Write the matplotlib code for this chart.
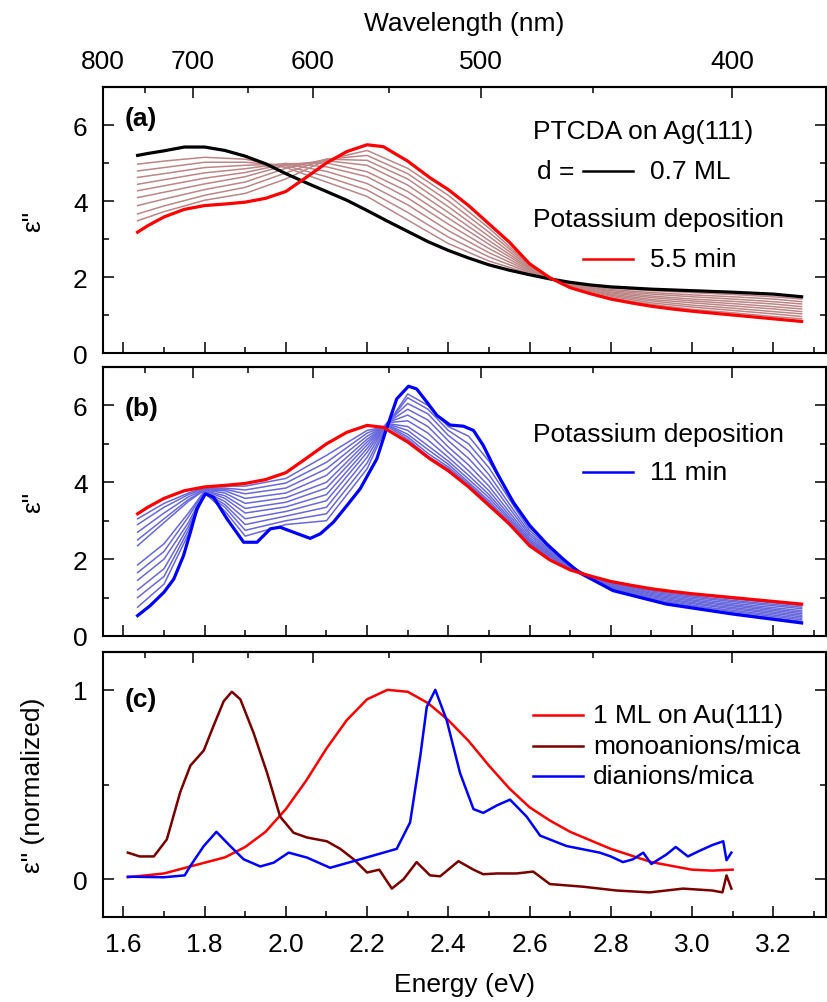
import numpy as np
import matplotlib.pyplot as plt
from matplotlib.ticker import MultipleLocator, FixedLocator, FormatStrFormatter

plt.rcParams['font.family'] = ['Liberation Sans', 'DejaVu Sans']
plt.rcParams['font.size'] = 19

# ---------------- panel (a): PTCDA on Ag(111), K deposition up to 5.5 min
E_a_black = [1.635, 1.66, 1.70, 1.75, 1.80, 1.85, 1.90, 1.95, 2.00, 2.05, 2.10, 2.15, 2.20, 2.25, 2.30,
             2.35, 2.40, 2.45, 2.50, 2.55, 2.60, 2.65, 2.70, 2.75, 2.80, 2.90, 3.00, 3.10, 3.20, 3.27]
eps_a_black = [5.20, 5.25, 5.32, 5.42, 5.42, 5.33, 5.18, 4.98, 4.72, 4.48, 4.25, 4.02, 3.75, 3.47, 3.20,
               2.93, 2.70, 2.50, 2.32, 2.18, 2.06, 1.95, 1.86, 1.79, 1.74, 1.68, 1.64, 1.60, 1.55, 1.48]

# 5.5 min K (same spectrum is the start of panel b)
E_red = [1.635, 1.66, 1.70, 1.75, 1.80, 1.85, 1.90, 1.95, 2.00, 2.05, 2.10, 2.15, 2.20, 2.24, 2.273, 2.30,
         2.355, 2.40, 2.45, 2.50, 2.55, 2.60, 2.65, 2.70, 2.75, 2.80, 2.85, 2.90, 2.95, 3.00, 3.10, 3.20, 3.27]
eps_red = [3.18, 3.35, 3.58, 3.78, 3.88, 3.92, 3.97, 4.07, 4.25, 4.62, 5.00, 5.30, 5.48, 5.43, 5.22, 5.05,
           4.61, 4.30, 3.88, 3.40, 2.92, 2.35, 1.98, 1.72, 1.56, 1.42, 1.32, 1.23, 1.16, 1.10, 1.00, 0.90, 0.83]

E_a_steps = [1.635, 1.70, 1.80, 1.90, 2.00, 2.10, 2.20, 2.30, 2.40, 2.50, 2.60, 2.65, 2.70, 2.80, 2.90,
             3.00, 3.10, 3.20, 3.27]
eps_a_steps = [
    [4.97, 5.05, 5.15, 5.10, 4.88, 4.50, 4.12, 3.50, 2.88, 2.42, 2.09, 1.95, 1.85, 1.71, 1.64, 1.59, 1.54, 1.48, 1.42],
    [4.79, 4.88, 5.02, 5.02, 4.93, 4.64, 4.29, 3.70, 3.05, 2.53, 2.12, 1.95, 1.83, 1.67, 1.59, 1.53, 1.48, 1.42, 1.35],
    [4.62, 4.72, 4.88, 4.94, 4.97, 4.78, 4.46, 3.90, 3.22, 2.64, 2.15, 1.96, 1.82, 1.64, 1.55, 1.48, 1.42, 1.35, 1.29],
    [4.44, 4.56, 4.74, 4.85, 4.99, 4.90, 4.64, 4.08, 3.39, 2.75, 2.18, 1.96, 1.80, 1.61, 1.50, 1.42, 1.36, 1.29, 1.22],
    [4.27, 4.40, 4.60, 4.75, 4.98, 5.00, 4.77, 4.25, 3.55, 2.86, 2.21, 1.96, 1.79, 1.58, 1.46, 1.37, 1.30, 1.22, 1.16],
    [4.09, 4.23, 4.45, 4.64, 4.94, 5.06, 4.94, 4.42, 3.70, 2.96, 2.24, 1.97, 1.77, 1.55, 1.41, 1.32, 1.24, 1.16, 1.09],
    [3.88, 4.05, 4.30, 4.50, 4.86, 5.10, 5.07, 4.58, 3.85, 3.07, 2.27, 1.97, 1.76, 1.52, 1.37, 1.26, 1.18, 1.09, 1.03],
    [3.66, 3.87, 4.15, 4.36, 4.74, 5.10, 5.20, 4.72, 4.00, 3.18, 2.30, 1.97, 1.75, 1.49, 1.32, 1.21, 1.12, 1.03, 0.96],
    [3.48, 3.72, 4.02, 4.20, 4.58, 5.08, 5.33, 4.86, 4.15, 3.29, 2.32, 1.98, 1.73, 1.45, 1.28, 1.15, 1.06, 0.96, 0.90],
]

# ---------------- panel (b): further K deposition up to 11 min
E_b_blue = [1.635, 1.666, 1.70, 1.724, 1.748, 1.765, 1.781, 1.802, 1.822, 1.855, 1.896, 1.929, 1.962, 1.986,
            2.019, 2.06, 2.085, 2.117, 2.15, 2.183, 2.224, 2.245, 2.273, 2.302, 2.322, 2.347, 2.372, 2.404,
            2.437, 2.462, 2.486, 2.519, 2.56, 2.601, 2.642, 2.683, 2.724, 2.806, 2.937, 3.101, 3.27]
eps_b_blue = [0.53, 0.79, 1.14, 1.48, 2.09, 2.70, 3.31, 3.70, 3.61, 3.05, 2.44, 2.44, 2.79, 2.83,
              2.70, 2.54, 2.66, 2.96, 3.39, 3.83, 4.61, 5.30, 6.17, 6.50, 6.43, 6.09, 5.74, 5.49,
              5.46, 5.35, 4.96, 4.26, 3.48, 2.87, 2.40, 2.00, 1.64, 1.18, 0.83, 0.57, 0.34]

E_b_steps = [1.635, 1.70, 1.76, 1.80, 1.85, 1.90, 2.00, 2.10, 2.20, 2.25, 2.30, 2.35, 2.40, 2.45, 2.50,
             2.60, 2.70, 2.80, 2.90, 3.05, 3.27]
eps_b_steps = [
    [3.05, 3.45, 3.72, 3.86, 3.90, 3.90, 4.10, 4.70, 5.35, 5.45, 5.12, 4.68, 4.35, 3.90, 3.43, 2.36, 1.74, 1.39, 1.20, 1.02, 0.79],
    [2.90, 3.35, 3.68, 3.84, 3.85, 3.80, 3.98, 4.52, 5.28, 5.48, 5.18, 4.75, 4.40, 3.95, 3.47, 2.38, 1.75, 1.37, 1.17, 0.98, 0.75],
    [2.70, 3.20, 3.62, 3.82, 3.82, 3.70, 3.85, 4.35, 5.20, 5.50, 5.25, 4.85, 4.47, 4.00, 3.52, 2.41, 1.76, 1.35, 1.14, 0.95, 0.71],
    [2.50, 3.05, 3.55, 3.80, 3.78, 3.58, 3.72, 4.18, 5.12, 5.52, 5.35, 4.95, 4.55, 4.08, 3.60, 2.44, 1.77, 1.33, 1.11, 0.91, 0.66],
    [2.35, 2.95, 3.50, 3.80, 3.72, 3.45, 3.60, 4.00, 5.05, 5.53, 5.45, 5.10, 4.65, 4.18, 3.68, 2.47, 1.78, 1.31, 1.08, 0.87, 0.62],
    [1.85, 2.40, 3.20, 3.78, 3.65, 3.32, 3.48, 3.85, 4.97, 5.55, 5.60, 5.28, 4.78, 4.30, 3.78, 2.51, 1.79, 1.29, 1.05, 0.84, 0.58],
    [1.65, 2.20, 3.10, 3.78, 3.58, 3.20, 3.36, 3.68, 4.88, 5.55, 5.75, 5.45, 4.92, 4.45, 3.90, 2.56, 1.80, 1.27, 1.02, 0.80, 0.54],
    [1.45, 2.00, 2.95, 3.76, 3.50, 3.05, 3.24, 3.52, 4.78, 5.55, 5.90, 5.62, 5.08, 4.62, 4.05, 2.62, 1.81, 1.25, 0.99, 0.77, 0.50],
    [1.20, 1.75, 2.85, 3.75, 3.42, 2.90, 3.12, 3.35, 4.65, 5.55, 6.05, 5.78, 5.22, 4.82, 4.20, 2.68, 1.82, 1.23, 0.96, 0.73, 0.46],
    [1.00, 1.55, 2.75, 3.74, 3.35, 2.75, 3.00, 3.18, 4.50, 5.52, 6.20, 5.90, 5.35, 5.00, 4.38, 2.75, 1.83, 1.21, 0.94, 0.70, 0.42],
    [0.75, 1.35, 2.65, 3.72, 3.25, 2.60, 2.90, 3.00, 4.35, 5.50, 6.30, 6.00, 5.45, 5.20, 4.55, 2.82, 1.84, 1.20, 0.92, 0.67, 0.38],
]

# ---------------- panel (c): normalized reference spectra
E_c_au = [1.611, 1.70, 1.77, 1.85, 1.90, 1.95, 2.00, 2.05, 2.10, 2.15, 2.20, 2.25, 2.30, 2.35, 2.40, 2.45,
          2.50, 2.55, 2.60, 2.65, 2.70, 2.80, 2.90, 3.00, 3.05, 3.10]
eps_c_au = [0.01, 0.03, 0.07, 0.115, 0.17, 0.25, 0.37, 0.52, 0.69, 0.84, 0.95, 1.00, 0.99, 0.93, 0.84, 0.73,
            0.60, 0.48, 0.38, 0.31, 0.25, 0.16, 0.09, 0.05, 0.045, 0.05]

E_c_mono = [1.611, 1.64, 1.675, 1.707, 1.74, 1.765, 1.798, 1.822, 1.847, 1.867, 1.888, 1.921, 1.954, 1.986,
            2.019, 2.052, 2.101, 2.134, 2.167, 2.20, 2.23, 2.261, 2.29, 2.322, 2.355, 2.38, 2.425, 2.462,
            2.486, 2.52, 2.568, 2.609, 2.65, 2.732, 2.814, 2.896, 2.978, 3.05, 3.075, 3.085, 3.097]
eps_c_mono = [0.14, 0.12, 0.12, 0.21, 0.46, 0.60, 0.68, 0.81, 0.94, 0.99, 0.95, 0.77, 0.56, 0.33,
              0.245, 0.22, 0.20, 0.16, 0.105, 0.035, 0.05, -0.05, 0.0, 0.09, 0.02, 0.015, 0.095, 0.05,
              0.026, 0.03, 0.03, 0.04, -0.026, -0.04, -0.06, -0.07, -0.05, -0.06, -0.07, 0.02, -0.05]

E_c_di = [1.611, 1.70, 1.751, 1.765, 1.798, 1.829, 1.863, 1.896, 1.937, 1.97, 2.007, 2.052, 2.109, 2.175,
          2.224, 2.273, 2.306, 2.331, 2.347, 2.368, 2.396, 2.429, 2.462, 2.486, 2.52, 2.552, 2.593, 2.626,
          2.691, 2.773, 2.80, 2.83, 2.855, 2.88, 2.90, 2.937, 2.96, 2.99, 3.019, 3.05, 3.077, 3.085, 3.097]
eps_c_di = [0.013, 0.01, 0.02, 0.07, 0.175, 0.25, 0.175, 0.105, 0.067, 0.087, 0.14, 0.114, 0.06, 0.10,
            0.13, 0.16, 0.30, 0.65, 0.91, 1.00, 0.84, 0.56, 0.37, 0.35, 0.39, 0.42, 0.33, 0.23,
            0.175, 0.14, 0.12, 0.09, 0.105, 0.14, 0.08, 0.13, 0.17, 0.12, 0.15, 0.18, 0.20, 0.10, 0.14]

step_col_a = '#bd8686'
step_col_b = '#6868dc'


def e2nm(x):
    x = np.asarray(x, dtype=float)
    with np.errstate(divide='ignore'):
        return 1239.84 / x


fig = plt.figure(figsize=(8.27, 10.03), dpi=100)
L, W = 103 / 827, 723 / 827
ax_a = fig.add_axes([L, 1 - 354 / 1003, W, 266 / 1003])
ax_b = fig.add_axes([L, 1 - 637 / 1003, W, 269 / 1003])
ax_c = fig.add_axes([L, 1 - 918 / 1003, W, 265 / 1003])

for s in eps_a_steps:
    ax_a.plot(E_a_steps, s, color=step_col_a, lw=1.1)
ax_a.plot(E_a_black, eps_a_black, color='black', lw=2.3)
ax_a.plot(E_red, eps_red, color='red', lw=2.3)

for s in eps_b_steps:
    ax_b.plot(E_b_steps, s, color=step_col_b, lw=1.1)
ax_b.plot(E_b_blue, eps_b_blue, color='blue', lw=2.3)
ax_b.plot(E_red, eps_red, color='red', lw=2.3)

ax_c.plot(E_c_au, eps_c_au, color='red', lw=1.8)
ax_c.plot(E_c_mono, eps_c_mono, color='#7a0000', lw=1.8)
ax_c.plot(E_c_di, eps_c_di, color='blue', lw=1.8)


def key(ax, y, color, x0=0.664, x1=0.733):
    ax.plot([x0, x1], [y, y], color=color, lw=1.8, transform=ax.transAxes, clip_on=False)


# legends drawn by hand
ax_a.text(0.595, 0.835, 'PTCDA on Ag(111)', transform=ax_a.transAxes, va='center')
ax_a.text(0.600, 0.684, 'd =', transform=ax_a.transAxes, va='center')
key(ax_a, 0.684, 'black')
ax_a.text(0.757, 0.684, '0.7 ML', transform=ax_a.transAxes, va='center')
ax_a.text(0.595, 0.504, 'Potassium deposition', transform=ax_a.transAxes, va='center')
key(ax_a, 0.353, 'red')
ax_a.text(0.757, 0.353, '5.5 min', transform=ax_a.transAxes, va='center')

ax_b.text(0.595, 0.751, 'Potassium deposition', transform=ax_b.transAxes, va='center')
key(ax_b, 0.610, 'blue')
ax_b.text(0.757, 0.610, '11 min', transform=ax_b.transAxes, va='center')

for y, c, t in [(0.762, 'red', '1 ML on Au(111)'), (0.645, '#7a0000', 'monoanions/mica'),
                (0.532, 'blue', 'dianions/mica')]:
    key(ax_c, y, c, 0.595, 0.664)
    ax_c.text(0.678, y, t, transform=ax_c.transAxes, va='center')

for ax, lab, ly in [(ax_a, '(a)', 0.883), (ax_b, '(b)', 0.848), (ax_c, '(c)', 0.823)]:
    ax.text(0.030, ly, lab, transform=ax.transAxes, va='center', fontweight='bold')

xlim = (1239.84 / 800, 3.33)
for ax in (ax_a, ax_b, ax_c):
    ax.set_xlim(*xlim)
    ax.xaxis.set_major_locator(MultipleLocator(0.2))
    ax.xaxis.set_minor_locator(MultipleLocator(0.1))
    ax.xaxis.set_major_formatter(FormatStrFormatter('%.1f'))
    ax.tick_params(which='both', direction='in', top=False, right=True, width=1.1)
    ax.tick_params(which='major', length=8, pad=11)
    ax.tick_params(which='minor', length=4.5)
    for sp in ax.spines.values():
        sp.set_linewidth(1.5)
    sec = ax.secondary_xaxis('top', functions=(e2nm, e2nm))
    sec.xaxis.set_major_locator(FixedLocator([400, 500, 600, 700, 800]))
    sec.xaxis.set_minor_locator(FixedLocator([450, 550, 650, 750]))
    sec.tick_params(which='both', direction='in', width=1.1)
    sec.tick_params(which='major', length=8, pad=10)
    sec.tick_params(which='minor', length=4.5)
    sec.spines['top'].set_linewidth(1.5)
    if ax is not ax_a:
        sec.tick_params(labeltop=False)
    else:
        sec.set_xlabel('Wavelength (nm)', labelpad=14)

for ax in (ax_a, ax_b):
    ax.set_ylim(0, 7)
    ax.yaxis.set_major_locator(MultipleLocator(2))
    ax.yaxis.set_minor_locator(MultipleLocator(1))
    ax.tick_params(labelbottom=False)
    ax.set_ylabel('ε"', labelpad=20)

ax_c.set_ylim(-0.2, 1.2)
ax_c.yaxis.set_major_locator(MultipleLocator(1))
ax_c.yaxis.set_minor_locator(MultipleLocator(0.5))
ax_c.set_ylabel('ε" (normalized)', labelpad=20)
ax_c.set_xlabel('Energy (eV)', labelpad=11)

fig.savefig('out.png', dpi=100)
